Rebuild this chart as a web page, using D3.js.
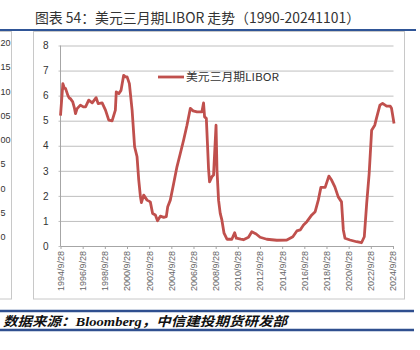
<!DOCTYPE html>
<html><head><meta charset="utf-8">
<script src="https://cdn.jsdelivr.net/npm/d3@7"></script>
<style>html,body{margin:0;padding:0;background:#fff;}svg{display:block;}</style>
</head><body>
<svg id="c" width="420" height="350"></svg>
<script>
const titleText = "图表 54：美元三月期LIBOR 走势（1990-20241101）";
const sourceText = "数据来源：Bloomberg，中信建投期货研发部";
const seriesName = "美元三月期LIBOR";
const dates = ["1994-09-28","1994-12-15","1995-02-01","1995-03-15","1995-06-01","1995-07-15","1995-08-20","1995-11-05",
"1996-01-01","1996-02-05","1996-03-28","1996-07-15","1996-10-20","1997-01-01","1997-04-15","1997-08-08","1997-12-15",
"1998-02-20","1998-07-01","1998-10-20","1999-02-05","1999-05-25","1999-09-10","1999-10-10","2000-01-01","2000-03-15",
"2000-06-10","2000-08-05","2000-10-01","2000-12-15","2001-03-15","2001-06-05","2001-08-25","2001-10-20","2001-12-15",
"2002-01-15","2002-04-01","2002-07-20","2002-11-05","2003-01-20","2003-04-20","2003-07-01","2003-10-01","2004-01-20",
"2004-04-15","2004-06-01","2004-08-25","2004-12-15","2005-04-01","2005-07-20","2005-11-05","2006-02-25","2006-06-15",
"2006-09-15","2007-01-20","2007-07-01","2007-08-25","2007-09-28","2007-11-25","2008-01-01","2008-02-05","2008-03-10",
"2008-05-25","2008-07-20","2008-10-10","2008-11-10","2009-01-01","2009-02-25","2009-04-20","2009-07-01","2009-10-05",
"2010-03-15","2010-06-15","2010-08-10","2011-01-01","2011-04-01","2011-09-15","2012-01-01","2012-05-25","2012-10-01",
"2013-05-10","2014-04-05","2015-03-01","2015-09-15","2016-01-25","2016-05-15","2016-09-01","2016-12-20","2017-06-01",
"2017-09-20","2018-01-01","2018-03-28","2018-08-15","2018-12-15","2019-03-15","2019-07-01","2019-10-20","2020-02-05",
"2020-04-05","2020-05-30","2020-11-10","2021-06-15","2021-11-25","2022-02-25","2022-05-15","2022-08-05","2022-10-25",
"2023-02-05","2023-04-01","2023-07-25","2023-10-20","2024-03-01","2024-07-01","2024-08-10","2024-11-01"];
const values = [5.2,6.48,6.3,6.28,6.0,5.9,5.88,5.75,
5.5,5.28,5.48,5.62,5.55,5.55,5.82,5.71,5.92,
5.68,5.71,5.42,5.02,4.99,5.42,6.15,6.08,6.21,
6.81,6.75,6.75,6.48,5.42,3.96,3.56,2.63,1.96,
1.73,2.03,1.83,1.76,1.30,1.24,1.01,1.19,1.14,
1.17,1.57,1.83,2.5,3.16,3.69,4.22,4.82,5.49,
5.39,5.35,5.35,5.71,5.15,5.09,4.09,3.1,2.56,
2.76,2.83,4.82,3.03,1.83,1.3,1.04,0.51,0.27,
0.27,0.53,0.31,0.27,0.25,0.35,0.57,0.48,0.35,
0.27,0.23,0.24,0.37,0.60,0.64,0.84,0.97,1.24,
1.37,1.83,2.34,2.34,2.79,2.63,2.36,1.96,1.76,
0.64,0.31,0.24,0.17,0.13,0.37,1.7,2.9,4.62,
4.82,5.09,5.62,5.69,5.58,5.58,5.5,4.89];
const xTickLabels = ["1994/9/28","1996/9/28","1998/9/28","2000/9/28","2002/9/28","2004/9/28","2006/9/28","2008/9/28",
"2010/9/28","2012/9/28","2014/9/28","2016/9/28","2018/9/28","2020/9/28","2022/9/28","2024/9/28"];
const yTicks = [0,1,2,3,4,5,6,7,8];
const sidePanelLabels = ["20","15","10","05","00","5","0","5","0"];

const svg = d3.select("#c");
const parse = d3.timeParse("%Y-%m-%d");
const parseTick = d3.timeParse("%Y/%m/%d");
const data = dates.map((d,i)=>({date:parse(d), v:values[i]}));
const tickDates = xTickLabels.map(parseTick);

const x = d3.scaleTime().domain([tickDates[0], tickDates[tickDates.length-1]]).range([60.5, 393]);
const y = d3.scaleLinear().domain([0,8]).range([246, 45.5]);

// title
svg.append("text").attr("x",35).attr("y",23).attr("textLength",325).attr("lengthAdjust","spacingAndGlyphs")
  .style("font-family","'Noto Sans CJK SC',sans-serif").style("font-size","14px").attr("fill","#333").text(titleText);
svg.append("line").attr("x1",0).attr("x2",416).attr("y1",30).attr("y2",30).attr("stroke","#2F5597").attr("stroke-width",2);

// side panel (partial neighbour panel)
svg.append("rect").attr("x",-2).attr("y",31.5).attr("width",13.5).attr("height",267.5).attr("fill","#fff").attr("stroke","#c8c8c8");
const sideY = d3.scalePoint().domain(d3.range(sidePanelLabels.length)).range([43,237]);
svg.append("g").selectAll("text").data(sidePanelLabels).join("text")
  .attr("x",0.5).attr("y",(d,i)=>sideY(i)+3.2).attr("text-anchor","start")
  .style("font-family","'Liberation Sans',Arial,sans-serif").style("font-size","9px").attr("fill","#333").text(d=>d);

// main box
svg.append("rect").attr("x",33.5).attr("y",31.5).attr("width",371).attr("height",267.5).attr("fill","#fff").attr("stroke","#c8c8c8");

// gridlines
const gy = svg.append("g").attr("transform","translate(60.5,0)")
  .call(d3.axisLeft(y).tickValues(yTicks).tickSizeInner(-333).tickSizeOuter(0).tickPadding(12).tickFormat(d3.format("d")));
gy.select(".domain").remove();
gy.selectAll(".tick line").attr("stroke","#bfbfbf").attr("x1",-2);
gy.selectAll(".tick text").style("font-family","'Liberation Sans',Arial,sans-serif").style("font-size","10px").attr("fill","#333");
svg.append("line").attr("x1",60.5).attr("x2",60.5).attr("y1",y(8)).attr("y2",y(0)).attr("stroke","#a6a6a6");

// x axis
const gx = svg.append("g").attr("transform",`translate(0,${y(0)})`)
  .call(d3.axisBottom(x).tickValues(tickDates).tickSizeInner(3).tickSizeOuter(0).tickFormat((d,i)=>xTickLabels[i]));
gx.select(".domain").attr("stroke","#a6a6a6");
gx.selectAll(".tick line").attr("stroke","#a6a6a6");
gx.selectAll(".tick text").attr("transform","rotate(-90)").attr("text-anchor","end").attr("x",-5).attr("y",0).attr("dy","0.32em")
  .style("font-family","'Liberation Sans',Arial,sans-serif").style("font-size","9px").attr("fill","#666");

// line
svg.append("path").datum(data).attr("fill","none").attr("stroke","#C0504D").attr("stroke-width",2.8)
  .attr("stroke-linejoin","round").attr("d", d3.line().x(d=>x(d.date)).y(d=>y(d.v)));

// legend
svg.append("line").attr("x1",158).attr("x2",184).attr("y1",77).attr("y2",77).attr("stroke","#C0504D").attr("stroke-width",2.8);
svg.append("text").attr("x",186).attr("y",81).attr("textLength",93).attr("lengthAdjust","spacingAndGlyphs")
  .style("font-family","'Noto Sans CJK SC',sans-serif").style("font-size","11px").attr("fill","#333").text(seriesName);

// source
svg.append("line").attr("x1",0).attr("x2",414).attr("y1",311).attr("y2",311).attr("stroke","#2F4F8F").attr("stroke-width",2.5);
svg.append("text").attr("x",3).attr("y",326).attr("textLength",284).attr("lengthAdjust","spacingAndGlyphs")
  .style("font-family","'Liberation Serif','Noto Sans CJK SC',serif").style("font-size","13px").style("font-weight","bold").style("font-style","italic")
  .attr("fill","#111").text(sourceText);
svg.append("line").attr("x1",0).attr("x2",414).attr("y1",330).attr("y2",330).attr("stroke","#2F4F8F").attr("stroke-width",2.5);
</script>
</body></html>
